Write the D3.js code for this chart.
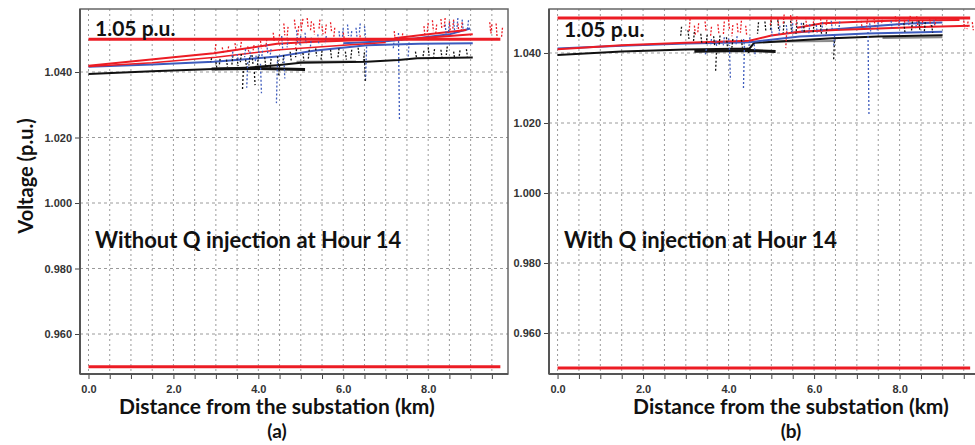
<!DOCTYPE html>
<html>
<head>
<meta charset="utf-8">
<script src="https://cdn.jsdelivr.net/npm/d3@7"></script>
<style>
body { margin: 0; background: #fff; }
.tick text { font-family: "Liberation Sans", Arial, sans-serif; font-weight: bold; font-size: 11px; fill: #333; }
.ttl { font-family: Lato, "Open Sans", sans-serif; font-weight: bold; fill: #111; }
</style>
</head>
<body>
<svg id="chart" width="975" height="445"></svg>
<script>

// axis ticks
var yTicks = [0.960, 0.980, 1.000, 1.020, 1.040];
var xTicks = [0, 0.5, 1, 1.5, 2, 2.5, 3, 3.5, 4, 4.5, 5, 5.5, 6, 6.5, 7, 7.5, 8, 8.5, 9, 9.5];
var xLabels = [0, 2, 4, 6, 8];
var limits = [0.95, 1.05];

// ---- panel (a) : without Q injection ----
var redMainA = [[0,1.0419],[1,1.0432],[2,1.0445],[2.95,1.0457],[3.7,1.0472],[4.44,1.0486],[5.2,1.0492],[6.5,1.0498],[7.7,1.0502],[8.5,1.0510],[9.05,1.0515]];
var redLowA = [[0,1.0417],[1.5,1.0428],[3.0,1.0445],[4.5,1.0468],[6.0,1.0482],[7.0,1.0490]];
var redUpperA = [[7.2,1.0503],[8.0,1.0515],[8.9,1.0528]];
var blueMainA = [[0,1.0416],[1.5,1.0423],[2.95,1.0431],[3.7,1.0439],[4.44,1.0447],[5.3,1.0465],[6.55,1.0482],[7.8,1.0486],[9.05,1.0488]];
var blueUpperA = [[6.0,1.0488],[7.0,1.0494],[7.74,1.0503],[8.5,1.0515],[8.99,1.0533]];
var blackMainA = [[0,1.0394],[1.5,1.0402],[2.95,1.0409],[3.8,1.0414],[4.44,1.0421],[5.0,1.0428],[6.55,1.0431],[7.3,1.0437],[7.74,1.0442],[9.05,1.0444]];
var blackSubA = [[2.9,1.0409],[4.0,1.0411],[5.1,1.0408]];
var grayA = [[4.9,1.0431],[6.3,1.0432]];

// dashed laterals: [km, top, bottom]
var blueDropsA = [[3.75,1.0430,1.0352],[4.05,1.0425,1.0335],[4.45,1.0432,1.0305],[4.6,1.0445,1.0380],[6.55,1.0478,1.0378],[7.3,1.0519,1.0253],[7.55,1.0490,1.0440]];
var blackDropsA = [[3.65,1.0415,1.0345],[3.9,1.0412,1.0360],[4.5,1.0420,1.0385],[6.5,1.0440,1.0370]];
var redDropsA = [[4.9,1.0500,1.0470]];

// short dotted clutter: [km, top, bottom]
var redDotsA = [[3.0,1.0485,1.0462],[3.15,1.0475,1.0458],[3.3,1.0478,1.0460],[3.45,1.0488,1.0468],[3.6,1.0492,1.0470],[3.75,1.0478,1.0462],[3.9,1.0482,1.0466],[4.05,1.0495,1.0472],[4.2,1.0500,1.0476],[4.35,1.0520,1.0495],[4.5,1.0515,1.0490],[4.6,1.0548,1.0512],[4.7,1.0538,1.0505],[4.85,1.0560,1.0530],[4.95,1.0540,1.0510],[5.0,1.0552,1.0520],[5.05,1.0562,1.0540],[5.15,1.0565,1.0535],[5.25,1.0555,1.0525],[5.3,1.0548,1.0515],[5.45,1.0560,1.0528],[5.5,1.0540,1.0515],[5.6,1.0545,1.0518],[5.7,1.0552,1.0525],[5.8,1.0535,1.0505],[6.0,1.0520,1.0500],[6.4,1.0512,1.0496],[7.2,1.0525,1.0498],[7.4,1.0518,1.0495],[7.9,1.0540,1.0512],[8.0,1.0550,1.0520],[8.1,1.0558,1.0525],[8.2,1.0545,1.0515],[8.3,1.0562,1.0530],[8.4,1.0565,1.0535],[8.5,1.0555,1.0522],[8.6,1.0560,1.0528],[8.7,1.0548,1.0520],[8.8,1.0552,1.0522],[9.45,1.0552,1.0520],[9.5,1.0545,1.0515],[9.6,1.0548,1.0505],[9.75,1.0535,1.0505]];
var blueDotsA = [[3.4,1.0462,1.0440],[3.5,1.0455,1.0438],[3.7,1.0470,1.0445],[3.8,1.0462,1.0440],[3.95,1.0450,1.0432],[4.0,1.0475,1.0448],[4.1,1.0465,1.0442],[4.2,1.0485,1.0455],[4.3,1.0470,1.0448],[4.55,1.0510,1.0470],[4.7,1.0500,1.0475],[4.9,1.0528,1.0490],[5.0,1.0510,1.0482],[5.1,1.0520,1.0488],[5.25,1.0505,1.0478],[5.4,1.0515,1.0485],[5.6,1.0510,1.0488],[5.9,1.0525,1.0495],[6.0,1.0535,1.0500],[6.1,1.0545,1.0510],[6.2,1.0525,1.0500],[6.3,1.0535,1.0508],[6.4,1.0548,1.0515],[6.5,1.0540,1.0505],[7.2,1.0500,1.0470],[8.4,1.0545,1.0515],[8.5,1.0550,1.0520],[8.6,1.0555,1.0525],[8.7,1.0565,1.0532],[8.8,1.0560,1.0530],[8.95,1.0558,1.0530]];
var blackDotsA = [[2.9,1.0442,1.0430],[3.0,1.0430,1.0412],[3.1,1.0440,1.0418],[3.25,1.0438,1.0415],[3.4,1.0450,1.0422],[3.5,1.0442,1.0418],[3.6,1.0455,1.0430],[3.7,1.0438,1.0412],[3.8,1.0445,1.0420],[3.85,1.0452,1.0425],[4.0,1.0448,1.0415],[4.15,1.0445,1.0418],[4.3,1.0440,1.0410],[4.45,1.0448,1.0422],[4.6,1.0452,1.0428],[4.75,1.0462,1.0435],[4.9,1.0470,1.0445],[5.05,1.0458,1.0435],[5.2,1.0468,1.0440],[5.35,1.0472,1.0448],[5.5,1.0465,1.0438],[5.7,1.0468,1.0442],[5.9,1.0472,1.0445],[6.05,1.0462,1.0438],[6.2,1.0468,1.0440],[6.35,1.0474,1.0450],[6.5,1.0460,1.0435],[7.7,1.0462,1.0445],[7.9,1.0465,1.0445],[8.0,1.0475,1.0450],[8.15,1.0470,1.0448],[8.3,1.0468,1.0445],[8.45,1.0478,1.0452],[8.6,1.0462,1.0440],[8.75,1.0466,1.0445],[8.9,1.0470,1.0448]];

// ---- panel (b) : with Q injection ----
var redMainB = [[0,1.0411],[1.5,1.0422],[3.0,1.0429],[4.49,1.0435],[5.0,1.0450],[5.66,1.0461],[6.5,1.0466],[7.5,1.0470],[8.5,1.0474],[9.64,1.0478]];
var redUpperB = [[5.6,1.0472],[6.2,1.0485],[7.2,1.0490],[8.0,1.0493],[9.4,1.0494]];
var blueMainB = [[0,1.0413],[1.5,1.0421],[3.0,1.0427],[4.49,1.0431],[5.66,1.0447],[7.23,1.0456],[9.0,1.0461]];
var blueUpperB = [[5.5,1.0458],[6.5,1.0468],[7.5,1.0478],[8.2,1.0484],[9.0,1.0487]];
var blackMainB = [[0,1.0394],[1.5,1.0404],[3.0,1.0410],[4.49,1.0413],[4.6,1.0429],[6.43,1.0442],[7.5,1.0447],[9.0,1.0451]];
var blackSubB = [[3.2,1.0405],[4.5,1.0407],[5.1,1.0404]];
var grayB = [[4.8,1.0432],[6.5,1.0434]];
var gray2B = [[7.6,1.0443],[9.0,1.0445]];

var blueDropsB = [[3.48,1.0412,1.0396],[4.02,1.0415,1.0323],[4.37,1.0420,1.0294],[4.6,1.0425,1.0390],[6.48,1.0450,1.0420],[7.26,1.0460,1.0223]];
var blackDropsB = [[3.72,1.0412,1.0349],[4.45,1.0415,1.0400],[6.48,1.0445,1.0380]];
var redDropsB = [[5.36,1.0462,1.0414]];

var redDotsB = [[3.1,1.0498,1.0460],[3.2,1.0478,1.0452],[3.3,1.0485,1.0455],[3.45,1.0490,1.0462],[3.6,1.0475,1.0445],[3.75,1.0482,1.0455],[3.9,1.0490,1.0450],[4.0,1.0495,1.0465],[4.1,1.0480,1.0448],[4.2,1.0485,1.0455],[4.3,1.0492,1.0458],[4.4,1.0478,1.0450],[5.0,1.0505,1.0480],[5.15,1.0500,1.0478],[5.3,1.0510,1.0482],[5.45,1.0508,1.0485],[5.6,1.0505,1.0478],[5.8,1.0502,1.0480],[6.0,1.0500,1.0480],[6.15,1.0498,1.0478],[6.3,1.0495,1.0475],[7.1,1.0492,1.0470],[7.25,1.0498,1.0475],[7.4,1.0500,1.0478],[7.6,1.0502,1.0482],[7.9,1.0505,1.0485],[8.0,1.0500,1.0478],[8.1,1.0502,1.0482],[8.25,1.0506,1.0484],[8.4,1.0505,1.0480],[8.55,1.0502,1.0480],[8.7,1.0500,1.0478],[8.85,1.0498,1.0476],[9.5,1.0492,1.0470],[9.6,1.0490,1.0468],[9.7,1.0488,1.0465]];
var blueDotsB = [[3.6,1.0440,1.0420],[3.7,1.0436,1.0418],[3.9,1.0445,1.0422],[4.0,1.0442,1.0420],[4.2,1.0448,1.0425],[4.35,1.0440,1.0418],[4.5,1.0445,1.0420],[5.0,1.0472,1.0448],[5.2,1.0478,1.0450],[5.35,1.0480,1.0452],[5.5,1.0485,1.0455],[5.7,1.0486,1.0460],[5.9,1.0482,1.0455],[6.05,1.0480,1.0458],[6.2,1.0488,1.0460],[6.4,1.0492,1.0468],[6.6,1.0490,1.0465],[7.3,1.0485,1.0462],[7.5,1.0488,1.0465],[7.8,1.0492,1.0470],[8.0,1.0494,1.0472],[8.2,1.0495,1.0475],[8.4,1.0490,1.0470],[8.8,1.0495,1.0478]];
var blackDotsB = [[2.9,1.0475,1.0445],[3.05,1.0465,1.0440],[3.2,1.0460,1.0430],[3.35,1.0455,1.0428],[3.5,1.0452,1.0425],[3.65,1.0448,1.0422],[3.8,1.0450,1.0420],[3.95,1.0445,1.0418],[4.1,1.0440,1.0415],[4.3,1.0438,1.0415],[4.7,1.0488,1.0455],[4.85,1.0490,1.0460],[5.0,1.0492,1.0462],[5.15,1.0494,1.0465],[5.3,1.0490,1.0458],[5.45,1.0492,1.0460],[5.6,1.0488,1.0455],[5.75,1.0486,1.0458],[6.0,1.0485,1.0458],[6.15,1.0480,1.0455],[6.3,1.0470,1.0450],[8.1,1.0485,1.0460],[8.3,1.0490,1.0462],[8.45,1.0492,1.0465],[8.6,1.0488,1.0460],[8.75,1.0480,1.0458]];

var colors = { r: "#ec1c24", b: "#3d5bbd", k: "#111111", g: "#8a8a8a" };

var svg = d3.select("#chart");
var plotTop = 9, plotBottom = 374;

function drawPanel(p) {
    var x = d3.scaleLinear().domain([-0.2, 9.88]).range(p.xr);
    var y = d3.scaleLinear().domain(p.yd).range([plotBottom, plotTop]);
    var g = svg.append("g");

    // grid
    g.selectAll(".vg").data(xTicks).enter().append("line")
        .attr("x1", function(d) { return x(d); })
        .attr("x2", function(d) { return x(d); })
        .attr("y1", plotTop).attr("y2", plotBottom)
        .style("stroke", "#9a9a9a").style("stroke-dasharray", "2,3");
    g.selectAll(".hg").data(yTicks).enter().append("line")
        .attr("x1", p.xr[0]).attr("x2", p.xr[1])
        .attr("y1", function(d) { return y(d); })
        .attr("y2", function(d) { return y(d); })
        .style("stroke", "#9a9a9a").style("stroke-dasharray", "3,3");

    var line = d3.line()
        .x(function(d) { return x(d[0]); })
        .y(function(d) { return y(d[1]); });

    // main profiles
    p.lines.forEach(function(l) {
        g.append("path").datum(l.pts)
            .attr("d", line)
            .style("fill", "none")
            .style("stroke", colors[l.c])
            .style("stroke-width", l.w);
    });

    // dotted clutter + dashed laterals
    p.dots.forEach(function(s) {
        g.selectAll(null).data(s.data).enter().append("line")
            .attr("x1", function(d) { return x(d[0]); })
            .attr("x2", function(d, i) { return x(d[0]) + (i % 2 ? 1 : -1); })
            .attr("y1", function(d) { return y(d[1]); })
            .attr("y2", function(d) { return y(d[2]); })
            .style("stroke", colors[s.c])
            .style("stroke-width", s.w)
            .style("stroke-dasharray", s.dash);
    });

    // voltage limits
    g.selectAll(".lim").data(limits).enter().append("line")
        .attr("x1", x(0)).attr("x2", x(p.limEnd))
        .attr("y1", function(d) { return y(d); })
        .attr("y2", function(d) { return y(d); })
        .style("stroke", colors.r).style("stroke-width", 3);

    // frame
    g.append("rect")
        .attr("x", p.xr[0]).attr("y", plotTop)
        .attr("width", p.xr[1] - p.xr[0]).attr("height", plotBottom - plotTop)
        .style("fill", "none").style("stroke", "#666").style("stroke-width", 1.5);

    // axes
    var ax = g.append("g")
        .attr("transform", "translate(" + p.xr[0] + ",0)")
        .call(d3.axisLeft(y).tickValues(yTicks).tickSize(5).tickPadding(3).tickFormat(d3.format(".3f")));
    ax.select(".domain").remove();
    ax.selectAll("line").style("stroke", "#444");

    var bx = g.append("g")
        .attr("transform", "translate(0," + plotBottom + ")")
        .call(d3.axisBottom(x).tickValues(xTicks).tickSize(5).tickPadding(6)
            .tickFormat(function(d) { return xLabels.indexOf(d) >= 0 ? d3.format(".1f")(d) : ""; }));
    bx.select(".domain").remove();
    bx.selectAll("line").style("stroke", "#444");

    g.append("line")
        .attr("x1", p.xr[0]).attr("x2", p.xr[0]).attr("y1", plotTop).attr("y2", plotBottom)
        .style("stroke", "#555").style("stroke-width", 2);
    g.append("line")
        .attr("x1", p.xr[0]).attr("x2", p.xr[1]).attr("y1", plotBottom).attr("y2", plotBottom)
        .style("stroke", "#555").style("stroke-width", 2);

    // texts
    g.append("text").attr("class", "ttl")
        .attr("x", p.xr[0] + 15).attr("y", p.noteY)
        .style("font-size", "21px").text("1.05 p.u.");
    g.append("text").attr("class", "ttl")
        .attr("x", p.xr[0] + 15).attr("y", 248)
        .style("font-size", "22px").text(p.note);
    g.append("text").attr("class", "ttl")
        .attr("x", p.titleX).attr("y", 414)
        .style("text-anchor", "middle").style("font-size", "21px")
        .text("Distance from the substation (km)");
    g.append("text").attr("class", "ttl")
        .attr("x", p.titleX).attr("y", 438)
        .style("text-anchor", "middle").style("font-size", "19px")
        .text(p.label);
}

drawPanel({
    xr: [80, 508], yd: [0.94779, 1.05924], limEnd: 9.7, noteY: 36,
    titleX: 277, label: "(a)", note: "Without Q injection at Hour 14",
    lines: [
        { c: "g", w: 2, pts: grayA },
        { c: "k", w: 3, pts: blackSubA },
        { c: "k", w: 2, pts: blackMainA },
        { c: "b", w: 2, pts: blueMainA },
        { c: "b", w: 2, pts: blueUpperA },
        { c: "r", w: 1.5, pts: redLowA },
        { c: "r", w: 2, pts: redMainA },
        { c: "r", w: 2, pts: redUpperA }
    ],
    dots: [
        { c: "k", w: 1.3, dash: "2,1.5", data: blackDotsA },
        { c: "b", w: 1.3, dash: "2,1.5", data: blueDotsA },
        { c: "r", w: 1.3, dash: "2,1.5", data: redDotsA },
        { c: "k", w: 1.3, dash: "2,2", data: blackDropsA },
        { c: "b", w: 1.3, dash: "2,2", data: blueDropsA },
        { c: "r", w: 1.3, dash: "2,2", data: redDropsA }
    ]
});

drawPanel({
    xr: [549, 980], yd: [0.94829, 1.05257], limEnd: 9.65, noteY: 37,
    titleX: 791, label: "(b)", note: "With Q injection at Hour 14",
    lines: [
        { c: "g", w: 2, pts: grayB },
        { c: "g", w: 2, pts: gray2B },
        { c: "k", w: 3, pts: blackSubB },
        { c: "k", w: 2, pts: blackMainB },
        { c: "b", w: 2, pts: blueMainB },
        { c: "b", w: 2, pts: blueUpperB },
        { c: "r", w: 2, pts: redMainB },
        { c: "r", w: 2, pts: redUpperB }
    ],
    dots: [
        { c: "k", w: 1.3, dash: "2,1.5", data: blackDotsB },
        { c: "b", w: 1.3, dash: "2,1.5", data: blueDotsB },
        { c: "r", w: 1.3, dash: "2,1.5", data: redDotsB },
        { c: "k", w: 1.3, dash: "2,2", data: blackDropsB },
        { c: "b", w: 1.3, dash: "2,2", data: blueDropsB },
        { c: "r", w: 1.3, dash: "2,2", data: redDropsB }
    ]
});

// y axis title (left panel only)
svg.append("text").attr("class", "ttl")
    .attr("transform", "translate(33,176) rotate(-90)")
    .style("text-anchor", "middle").style("font-size", "20px")
    .text("Voltage (p.u.)");

</script>
</body>
</html>
